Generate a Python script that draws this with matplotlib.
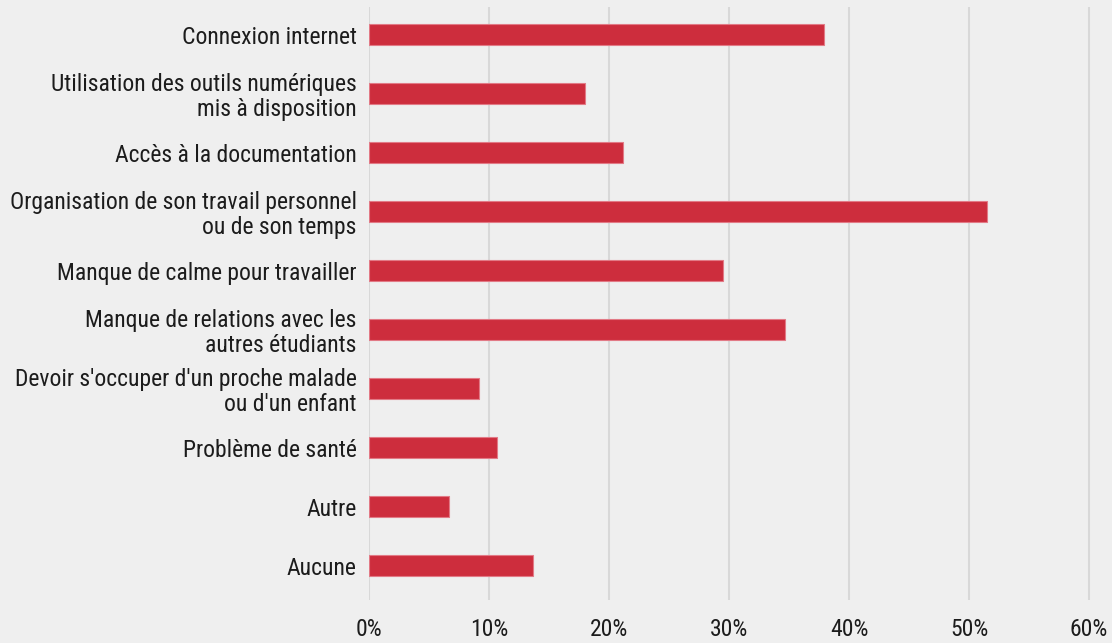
import matplotlib
matplotlib.use("Agg")
import matplotlib.pyplot as plt
from matplotlib import font_manager

labels = [
    "Connexion internet",
    "Utilisation des outils numériques\nmis à disposition",
    "Accès à la documentation",
    "Organisation de son travail personnel\nou de son temps",
    "Manque de calme pour travailler",
    "Manque de relations avec les\nautres étudiants",
    "Devoir s'occuper d'un proche malade\nou d'un enfant",
    "Problème de santé",
    "Autre",
    "Aucune",
]
values = [37.9, 18.0, 21.2, 51.5, 29.5, 34.7, 9.2, 10.7, 6.7, 13.7]
xticks = [0, 10, 20, 30, 40, 50, 60]

# condensed face like the reference, first one installed wins
names = {f.name for f in font_manager.fontManager.ttflist}
fam = "DejaVu Sans"
for cand in ["Roboto Condensed", "Liberation Sans Narrow", "Archivo Narrow",
             "Fira Sans Condensed", "IBM Plex Sans Condensed", "Barlow Condensed"]:
    if cand in names:
        fam = cand
        break
plt.rcParams['font.family'] = [fam, 'DejaVu Sans']

bg = "#efefef"
W, H = 1112, 643
fig = plt.figure(figsize=(W/100, H/100), dpi=100, facecolor=bg)
ax = fig.add_axes([369/W, (H-600)/H, (W-369)/W, (600-7)/H], facecolor=bg)

pos = list(range(len(labels)))
ax.barh(pos, values, height=0.36, color="#cd2d3d", edgecolor="#e27a86", linewidth=0.8, zorder=3)
ax.set_ylim(len(labels) - 1 + 0.58, -0.47)
ax.set_xlim(0, 60 * (W - 369) / 720)

ax.set_yticks(pos)
ax.set_yticklabels(labels, fontsize=17, color="#1c1c1c", ha="right", linespacing=1.1)
ax.set_xticks(xticks)
ax.set_xticklabels([f"{t}%" for t in xticks], fontsize=17, color="#1c1c1c")
ax.tick_params(axis="both", length=0)
ax.tick_params(axis="y", pad=9)
ax.tick_params(axis="x", pad=13)
ax.xaxis.grid(True, color="#d8d8d8", linewidth=1.5, zorder=0)
for s in ax.spines.values():
    s.set_visible(False)

fig.savefig("out.png", dpi=100, facecolor=bg)
